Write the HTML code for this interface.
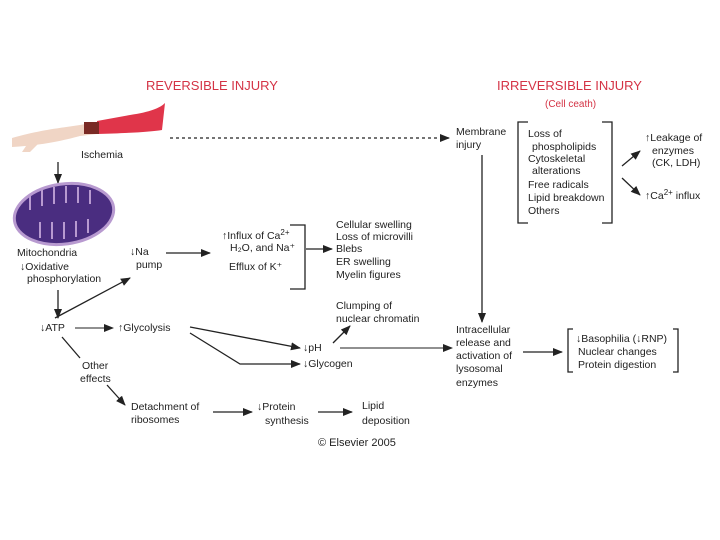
<!DOCTYPE html>
<html><head><meta charset="utf-8"><style>
html,body{margin:0;padding:0;background:#fff;width:720px;height:540px;overflow:hidden}
svg{display:block}
text{font-family:"Liberation Sans",sans-serif;font-size:10.5px;fill:#222}
.r{fill:#d43345;font-size:13px}
</style></head><body>
<svg width="720" height="540" viewBox="0 0 720 540" xmlns="http://www.w3.org/2000/svg">
<defs><marker id="a" markerWidth="10" markerHeight="8" refX="9" refY="4" orient="auto" markerUnits="userSpaceOnUse"><path d="M0,0 L10,4 L0,8 Z" fill="#222"/></marker></defs>
<g stroke="#222" fill="none" stroke-width="1.3">
<path d="M12,138 C40,130 60,128 80,125 L97,122 L97,134 L80,136 C65,140 45,145 12,147 Z" fill="#f0d5c5" stroke="none"/>
<path d="M30,140 L22,152 L30,152 L42,140 Z" fill="#f0d5c5" stroke="none"/>
<path d="M97,121 L130,115 C150,112 160,108 165,103 L162,130 C150,132 130,133 97,134 Z" fill="#e0354a" stroke="none"/>
<rect x="84" y="122" width="15" height="12" fill="#7a2a25" stroke="none"/>
<line x1="170" y1="138" x2="448" y2="138" stroke-dasharray="3,3"/>
<line x1="448" y1="138" x2="449" y2="138" marker-end="url(#a)"/>
<line x1="58" y1="162" x2="58" y2="183" marker-end="url(#a)"/>
<ellipse cx="64" cy="214" rx="50" ry="30" transform="rotate(-8 64 214)" fill="#4a2d80" stroke="#b89ad0" stroke-width="3"/>
<path d="M30,210 v-14 M42,206 v-16 M54,204 v-17 M66,203 v-17 M78,203 v-16 M90,204 v-14 M40,222 v16 M52,222 v17 M64,222 v17 M76,221 v16 M88,219 v14" stroke="#b89ad0" stroke-width="2"/>
<line x1="166" y1="253" x2="210" y2="253" marker-end="url(#a)"/>
<path d="M290,225 H305 V289 H290"/>
<line x1="306" y1="249" x2="332" y2="249" marker-end="url(#a)"/>
<line x1="55" y1="318" x2="130" y2="278" marker-end="url(#a)"/>
<line x1="58" y1="290" x2="58" y2="318" marker-end="url(#a)"/>
<line x1="75" y1="328" x2="113" y2="328" stroke-width="1" marker-end="url(#a)"/>
<line x1="190" y1="327" x2="300" y2="348" marker-end="url(#a)"/>
<polyline points="190,333 240,364 300,364" marker-end="url(#a)"/>
<line x1="333" y1="343" x2="350" y2="326" marker-end="url(#a)"/>
<line x1="340" y1="348" x2="452" y2="348" stroke-width="1" marker-end="url(#a)"/>
<line x1="482" y1="155" x2="482" y2="322" marker-end="url(#a)"/>
<path d="M528,122 H518 V223 H528 M602,122 H612 V223 H602"/>
<line x1="622" y1="166" x2="640" y2="151" marker-end="url(#a)"/>
<line x1="622" y1="178" x2="640" y2="195" marker-end="url(#a)"/>
<line x1="523" y1="352" x2="562" y2="352" marker-end="url(#a)"/>
<path d="M573,329 H568 V372 H573 M673,329 H678 V372 H673"/>
<line x1="62" y1="337" x2="80" y2="358"/>
<line x1="107" y1="385" x2="125" y2="405" marker-end="url(#a)"/>
<line x1="213" y1="412" x2="252" y2="412" marker-end="url(#a)"/>
<line x1="318" y1="412" x2="352" y2="412" marker-end="url(#a)"/>
</g>
<text class="r" x="146" y="90">REVERSIBLE INJURY</text>
<text class="r" x="497" y="90">IRREVERSIBLE INJURY</text>
<text class="r" x="545" y="107" style="font-size:10px">(Cell ceath)</text>
<text x="81" y="158">Ischemia</text>
<text x="17" y="256">Mitochondria</text>
<text x="20" y="270">↓Oxidative</text>
<text x="27" y="282">phosphorylation</text>
<text x="130" y="255">↓Na</text>
<text x="136" y="268">pump</text>
<text x="222" y="239">↑Influx of Ca<tspan dy="-4" font-size="8">2+</tspan></text>
<text x="230" y="251">H₂O, and Na⁺</text>
<text x="229" y="270">Efflux of K⁺</text>
<text x="336" y="228">Cellular swelling</text>
<text x="336" y="240">Loss of microvilli</text>
<text x="336" y="252">Blebs</text>
<text x="336" y="265">ER swelling</text>
<text x="336" y="278">Myelin figures</text>
<text x="40" y="331">↓ATP</text>
<text x="118" y="331">↑Glycolysis</text>
<text x="336" y="309">Clumping of</text>
<text x="336" y="322">nuclear chromatin</text>
<text x="303" y="351">↓pH</text>
<text x="303" y="367">↓Glycogen</text>
<text x="456" y="135">Membrane</text>
<text x="456" y="148">injury</text>
<text x="528" y="137">Loss of</text>
<text x="532" y="150">phospholipids</text>
<text x="528" y="162">Cytoskeletal</text>
<text x="532" y="174">alterations</text>
<text x="528" y="188">Free radicals</text>
<text x="528" y="201">Lipid breakdown</text>
<text x="528" y="214">Others</text>
<text x="645" y="141">↑Leakage of</text>
<text x="652" y="154">enzymes</text>
<text x="652" y="166">(CK, LDH)</text>
<text x="645" y="199">↑Ca<tspan dy="-4" font-size="8">2+</tspan><tspan dy="4"> influx</tspan></text>
<text x="456" y="333">Intracellular</text>
<text x="456" y="346">release and</text>
<text x="456" y="359">activation of</text>
<text x="456" y="372">lysosomal</text>
<text x="456" y="386">enzymes</text>
<text x="576" y="342">↓Basophilia (↓RNP)</text>
<text x="578" y="355">Nuclear changes</text>
<text x="578" y="368">Protein digestion</text>
<text x="82" y="369">Other</text>
<text x="80" y="382">effects</text>
<text x="131" y="410">Detachment of</text>
<text x="131" y="423">ribosomes</text>
<text x="257" y="410">↓Protein</text>
<text x="265" y="424">synthesis</text>
<text x="362" y="409">Lipid</text>
<text x="362" y="424">deposition</text>
<text x="318" y="446" style="font-size:11px">© Elsevier 2005</text>
</svg>
</body></html>
